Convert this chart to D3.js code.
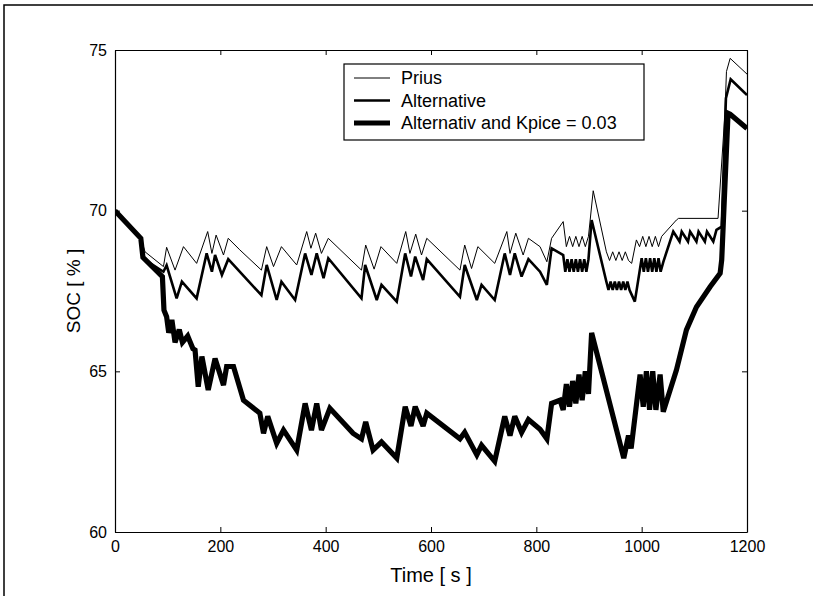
<!DOCTYPE html>
<html><head><meta charset="utf-8">
<script src="https://cdn.jsdelivr.net/npm/d3@7"></script>
<style>
body{margin:0;background:#fff}
svg{display:block}
text{font-family:"Liberation Sans",Arial,Helvetica,sans-serif;fill:#000}
</style>
</head><body>
<svg id="chart" width="813" height="596"></svg>
<script>
const xTicks=[0,200,400,600,800,1000,1200];
const yTicks=[60,65,70,75];
const seriesNames=["Prius","Alternative","Alternativ and Kpice = 0.03"];
const prius=[[0,70.0],[49,69.14],[57,68.72],[92,68.26],[98,68.86],[114,68.15],[130,68.88],[155,68.36],[176,69.35],[184,68.67],[192,69.24],[206,68.62],[215,69.14],[237,68.78],[278,68.15],[288,68.88],[301,68.26],[316,68.88],[345,68.31],[364,69.35],[372,68.83],[381,69.30],[392,68.67],[405,69.14],[468,68.15],[476,68.93],[492,68.18],[505,68.88],[535,68.36],[552,69.35],[560,68.67],[571,69.27],[582,68.62],[592,69.14],[655,68.15],[664,68.93],[677,68.2],[689,68.88],[721,68.36],[744,69.35],[750,68.67],[761,69.3],[775,68.62],[785,69.14],[807,68.88],[820,68.41],[829,69.14],[851,69.66],[857,68.88],[863,69.2],[869,68.88],[875,69.2],[881,68.88],[887,69.2],[893,68.88],[899,69.2],[908,70.62],[933,68.72],[939,68.45],[945,68.72],[951,68.45],[957,68.72],[963,68.45],[969,68.72],[975,68.45],[981,68.36],[990,69.09],[996,68.88],[1002,69.2],[1008,68.88],[1014,69.2],[1020,68.88],[1026,69.2],[1032,68.88],[1038,69.2],[1066,69.71],[1070,69.76],[1145,69.76],[1158,73.0],[1161,74.33],[1168,74.74],[1200,74.25]];
const alternative=[[0,70.0],[49,69.14],[54,68.5],[92,68.1],[98,68.3],[117,67.27],[127,67.79],[155,67.27],[174,68.67],[184,68.1],[190,68.62],[203,68.0],[215,68.49],[278,67.37],[288,68.31],[307,67.22],[316,67.79],[342,67.22],[361,68.67],[373,68.0],[383,68.67],[396,67.9],[405,68.52],[468,67.27],[475,68.31],[497,67.22],[506,67.69],[535,67.17],[551,68.67],[562,67.95],[570,68.57],[585,67.84],[592,68.49],[655,67.32],[664,68.31],[687,67.22],[696,67.69],[721,67.22],[740,68.67],[750,68.0],[759,68.67],[772,67.95],[785,68.49],[807,68.1],[820,67.69],[829,68.83],[851,68.62],[855,68.1],[859,68.49],[863,68.1],[867,68.49],[871,68.1],[875,68.49],[879,68.1],[883,68.49],[887,68.1],[891,68.49],[895,68.1],[899,68.49],[905,69.71],[933,67.79],[937,67.53],[941,67.79],[945,67.53],[949,67.79],[953,67.53],[957,67.79],[961,67.53],[965,67.79],[969,67.53],[973,67.79],[977,67.53],[987,67.17],[1000,68.52],[1004,68.1],[1008,68.52],[1012,68.1],[1016,68.52],[1020,68.1],[1024,68.52],[1028,68.1],[1032,68.52],[1036,68.1],[1041,68.4],[1060,69.35],[1072,69.04],[1076,69.35],[1088,69.04],[1092,69.35],[1104,69.04],[1108,69.35],[1120,69.04],[1124,69.35],[1136,69.04],[1142,69.4],[1152,69.5],[1160,73.5],[1169,74.09],[1200,73.6]];
const kpice=[[0,70.0],[49,69.14],[53,68.55],[90,67.95],[93,66.9],[98,66.7],[102,66.2],[108,66.6],[114,65.9],[122,66.3],[128,65.9],[138,66.1],[148,65.7],[152,65.66],[158,64.52],[165,65.46],[177,64.42],[190,65.4],[206,64.57],[212,65.15],[225,65.15],[244,64.1],[275,63.7],[282,63.07],[290,63.6],[307,62.76],[320,63.17],[345,62.55],[361,64.0],[373,63.17],[383,64.0],[392,63.17],[408,63.85],[452,63.07],[468,62.9],[476,63.43],[490,62.55],[506,62.8],[535,62.3],[551,63.9],[562,63.3],[570,63.9],[585,63.3],[592,63.7],[655,62.9],[664,63.1],[687,62.4],[696,62.7],[721,62.2],[740,63.6],[750,63.0],[759,63.6],[772,63.1],[785,63.5],[807,63.2],[820,62.9],[829,64.0],[845,64.1],[851,63.8],[857,64.6],[863,63.9],[869,64.7],[875,64.0],[881,64.9],[887,64.1],[893,65.0],[899,64.3],[905,66.2],[966,62.3],[975,63.0],[980,62.6],[997,64.9],[1003,63.9],[1009,65.0],[1015,63.8],[1021,65.0],[1027,63.8],[1035,64.9],[1041,63.74],[1066,65.04],[1085,66.29],[1104,67.0],[1130,67.63],[1149,68.05],[1152,68.47],[1164,73.03],[1168,73.0],[1200,72.56]];

const svg=d3.select("#chart");
const L=115,R=747,T=50,B=532;
const x=d3.scaleLinear().domain([0,1200]).range([L,R]);
const y=d3.scaleLinear().domain([60,75]).range([B,T]);

svg.append("path").attr("d","M4,596V5H813").attr("fill","none").attr("stroke","#000").attr("stroke-width",1.5);

svg.append("clipPath").attr("id","clip").append("rect").attr("x",L).attr("y",T).attr("width",R-L).attr("height",B-T);

const line=d3.line().x(d=>x(d[0])).y(d=>y(d[1]));
const g=svg.append("g").attr("clip-path","url(#clip)");
const widths=[1,2.6,5.2];
[prius,alternative,kpice].forEach((s,i)=>{
  g.append("path").datum(s).attr("d",line).attr("fill","none").attr("stroke","#000").attr("stroke-width",widths[i]).attr("stroke-linejoin","miter").attr("stroke-miterlimit",3);
});

const fs=16;
const ax=svg.append("g").attr("transform",`translate(0,${B})`).call(d3.axisBottom(x).tickValues(xTicks).tickFormat(d3.format("d")).tickSize(-5).tickSizeOuter(0).tickPadding(9));
const axT=svg.append("g").attr("transform",`translate(0,${T})`).call(d3.axisTop(x).tickValues(xTicks).tickSize(-5).tickSizeOuter(0).tickFormat(""));
const ay=svg.append("g").attr("transform",`translate(${L},0)`).call(d3.axisLeft(y).tickValues(yTicks).tickFormat(d3.format("d")).tickSize(-5).tickSizeOuter(0).tickPadding(8));
const ayR=svg.append("g").attr("transform",`translate(${R},0)`).call(d3.axisRight(y).tickValues(yTicks).tickSize(-5).tickSizeOuter(0).tickFormat(""));
[ax,axT,ay,ayR].forEach(a=>{
  a.selectAll("path").attr("stroke","#000").attr("stroke-width",1.2);
  a.selectAll("line").attr("stroke","#000").attr("stroke-width",1);
  a.selectAll("text").attr("font-size",fs).attr("font-family","'Liberation Sans',Arial,sans-serif").attr("fill","#000");
});

svg.append("text").attr("x",(L+R)/2).attr("y",582).attr("text-anchor","middle").attr("font-size",20).text("Time [ s ]");
svg.append("text").attr("transform",`translate(80,${(T+B)/2}) rotate(-90)`).attr("text-anchor","middle").attr("font-size",19).text("SOC [ % ]");

const lg=svg.append("g");
lg.append("rect").attr("x",344).attr("y",64).attr("width",300).attr("height",76).attr("fill","#fff").attr("stroke","#000").attr("stroke-width",1.2);
seriesNames.forEach((n,i)=>{
  const yy=78+i*22.5;
  lg.append("line").attr("x1",354).attr("x2",390).attr("y1",yy).attr("y2",yy).attr("stroke","#000").attr("stroke-width",widths[i]);
  lg.append("text").attr("x",401).attr("y",yy).attr("dy","0.35em").attr("font-size",18).text(n);
});
</script>
</body></html>
